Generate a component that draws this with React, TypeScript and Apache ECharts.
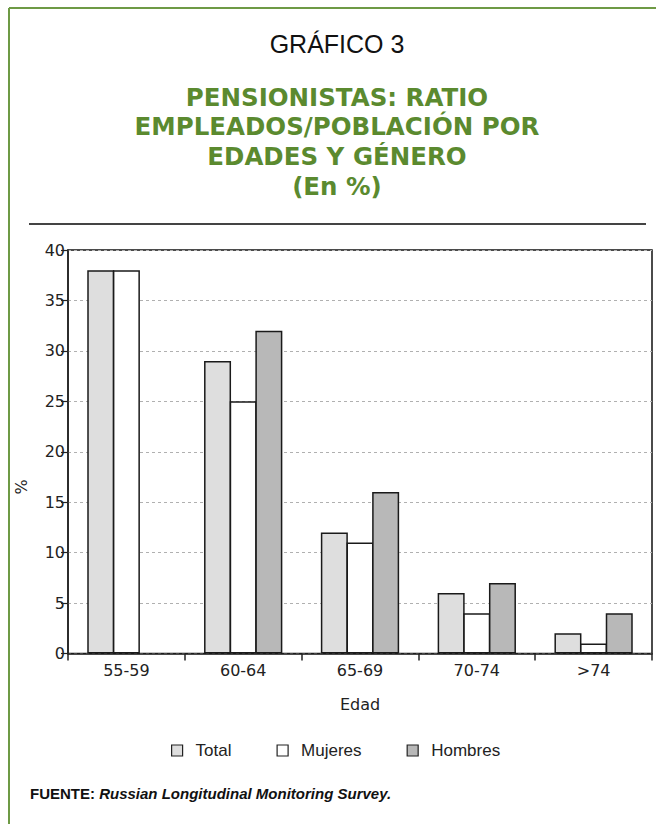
import React, { useEffect, useRef } from "react";
import * as echarts from "echarts";

const categories = ["55-59", "60-64", "65-69", "70-74", ">74"];
const totalValues = [38, 29, 12, 6, 2];
const mujeresValues = [38, 25, 11, 4, 1];
const hombresValues: (number | null)[] = [null, 32, 16, 7, 4];
const seriesNames = ["Total", "Mujeres", "Hombres"];
const yTicks = { min: 0, max: 40, interval: 5 };

const titleLines = [
  "PENSIONISTAS: RATIO",
  "EMPLEADOS/POBLACIÓN POR",
  "EDADES Y GÉNERO",
  "(En %)",
];

export default function App() {
  const ref = useRef<HTMLDivElement>(null);
  useEffect(() => {
    document.body.style.margin = "0";
    const chart = echarts.init(ref.current!, undefined, { renderer: "svg" });
    const green = "#5b8a2f";
    const barBorder = { borderColor: "#1a1a1a", borderWidth: 1.5 };
    const lineYs = [97, 126, 156, 186];
    chart.setOption({
      animation: false,
      backgroundColor: "#ffffff",
      grid: {
        left: 68,
        right: 4,
        top: 250,
        bottom: 170.5,
        show: true,
        borderColor: "#111",
        borderWidth: 1.5,
        backgroundColor: "transparent",
      },
      legend: {
        data: seriesNames,
        left: 166,
        top: 737,
        icon: "rect",
        itemWidth: 11,
        itemHeight: 11,
        itemGap: 45,
        itemStyle: { borderColor: "#222", borderWidth: 1.2 },
        textStyle: {
          fontFamily: "Liberation Sans",
          fontSize: 17,
          color: "#222",
          padding: [0, 0, 0, 8],
        },
      },
      xAxis: {
        type: "category",
        data: categories,
        name: "Edad",
        nameLocation: "middle",
        nameGap: 43,
        nameTextStyle: { fontFamily: "DejaVu Sans", fontSize: 16, color: "#222" },
        axisLine: { lineStyle: { color: "#222", width: 1.5 } },
        axisTick: { show: true, length: 7, lineStyle: { color: "#222", width: 1.5 } },
        axisLabel: { fontFamily: "DejaVu Sans", fontSize: 16, color: "#222", margin: 9 },
      },
      yAxis: {
        type: "value",
        min: yTicks.min,
        max: yTicks.max,
        interval: yTicks.interval,
        axisLine: { show: true, lineStyle: { color: "#222", width: 1.5 } },
        axisTick: { show: true, length: 7, lineStyle: { color: "#222", width: 1.2 } },
        axisLabel: { fontFamily: "DejaVu Sans", fontSize: 16, color: "#222", margin: 3 },
        splitLine: { show: true, lineStyle: { color: "#b0b0b0", type: [3, 3], width: 1 } },
      },
      series: [
        {
          name: seriesNames[0],
          type: "bar",
          data: totalValues,
          barWidth: 27,
          barGap: "-5%",
          itemStyle: { color: "#dedede", ...barBorder },
        },
        {
          name: seriesNames[1],
          type: "bar",
          data: mujeresValues,
          barWidth: 27,
          barGap: "-5%",
          itemStyle: { color: "#ffffff", ...barBorder },
        },
        {
          name: seriesNames[2],
          type: "bar",
          data: hombresValues.map((v) => (v === null ? "-" : v)),
          barWidth: 27,
          barGap: "-5%",
          itemStyle: { color: "#b8b8b8", ...barBorder },
        },
      ],
      graphic: [
        {
          type: "line",
          shape: { x1: 9, y1: 8, x2: 700, y2: 8 },
          style: { stroke: "#6e9a45", lineWidth: 2 },
        },
        {
          type: "line",
          shape: { x1: 9, y1: 8, x2: 9, y2: 900 },
          style: { stroke: "#6e9a45", lineWidth: 2 },
        },
        {
          type: "text",
          x: 337,
          y: 44,
          style: {
            text: "GRÁFICO 3",
            fontFamily: "Liberation Sans",
            fontSize: 25,
            fill: "#111",
            align: "center",
            verticalAlign: "middle",
          },
        },
        ...titleLines.map((t, i) => ({
          type: "text",
          x: 337,
          y: lineYs[i],
          style: {
            text: t,
            fontFamily: "DejaVu Sans",
            fontWeight: "bold",
            fontSize: 24.5,
            fill: green,
            align: "center",
            verticalAlign: "middle",
          },
        })),
        {
          type: "line",
          shape: { x1: 29, y1: 224, x2: 646, y2: 224 },
          style: { stroke: "#444", lineWidth: 2 },
        },
        {
          type: "text",
          x: 21,
          y: 487,
          rotation: Math.PI / 2,
          style: {
            text: "%",
            fontFamily: "DejaVu Sans",
            fontSize: 16,
            fill: "#222",
            align: "center",
            verticalAlign: "middle",
          },
        },
        {
          type: "text",
          x: 30,
          y: 793,
          style: {
            text: "{b|FUENTE:} {i|Russian Longitudinal Monitoring Survey.}",
            verticalAlign: "middle",
            rich: {
              b: { fontFamily: "Liberation Sans", fontWeight: "bold", fontSize: 15, fill: "#111" },
              i: {
                fontFamily: "Liberation Sans",
                fontWeight: "bold",
                fontStyle: "italic",
                fontSize: 15,
                fill: "#111",
              },
            },
            fontFamily: "Liberation Sans",
            fontSize: 15,
          },
        },
      ],
    });
    return () => chart.dispose();
  }, []);
  return <div ref={ref} style={{ width: 656, height: 824 }} />;
}
